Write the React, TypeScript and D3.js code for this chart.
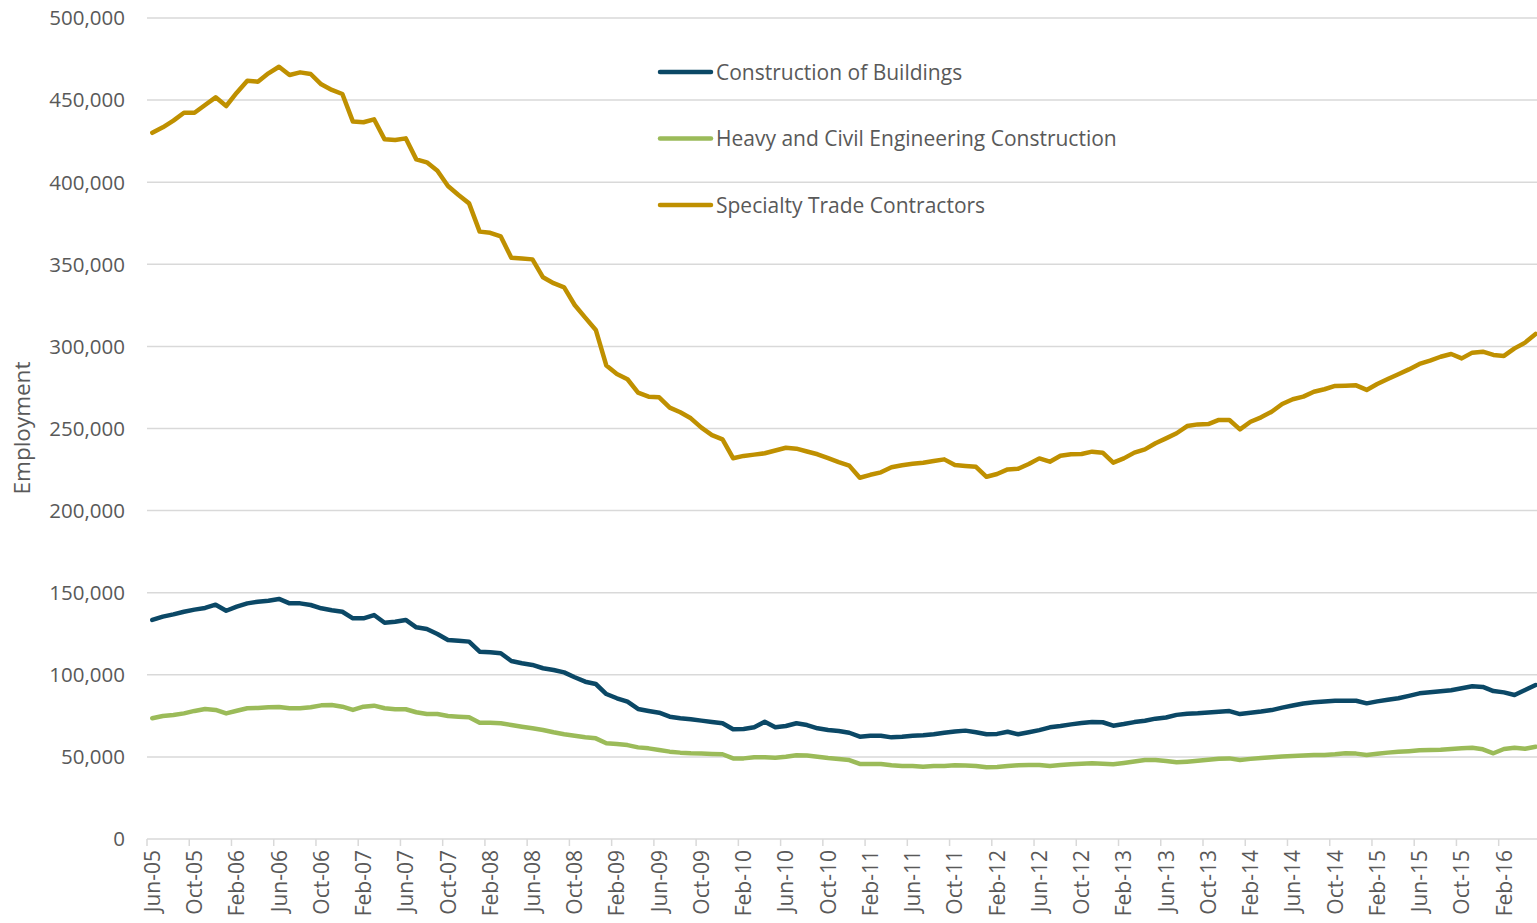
import React, { useEffect, useRef } from "react";
import * as d3 from "d3";

// month labels shown every 4 months, starting Jun-05
const tickLabels = [
  "Jun-05", "Oct-05", "Feb-06", "Jun-06", "Oct-06", "Feb-07", "Jun-07", "Oct-07",
  "Feb-08", "Jun-08", "Oct-08", "Feb-09", "Jun-09", "Oct-09", "Feb-10", "Jun-10",
  "Oct-10", "Feb-11", "Jun-11", "Oct-11", "Feb-12", "Jun-12", "Oct-12", "Feb-13",
  "Jun-13", "Oct-13", "Feb-14", "Jun-14", "Oct-14", "Feb-15", "Jun-15", "Oct-15",
  "Feb-16",
];

// employment, thousands, monthly Jun-05 .. May-16
const buildings = [
  133.4, 135.4, 136.8, 138.4, 139.7, 140.7, 142.7, 139.0, 141.5, 143.5,
  144.5, 145.1, 146.2, 143.5, 143.5, 142.5, 140.5, 139.3, 138.4, 134.4,
  134.4, 136.4, 131.7, 132.3, 133.4, 128.9, 127.9, 124.8, 121.2, 120.8,
  120.2, 114.1, 113.7, 113.1, 108.4, 107.0, 106.0, 104.0, 102.9, 101.5,
  98.5, 95.8, 94.4, 88.3, 85.7, 83.6, 79.2, 78.0, 76.9, 74.5,
  73.5, 72.9, 72.1, 71.3, 70.5, 66.8, 67.0, 68.0, 71.4, 68.0,
  68.8, 70.5, 69.4, 67.4, 66.4, 65.8, 64.7, 62.3, 62.9, 62.9,
  61.9, 62.3, 62.9, 63.2, 63.8, 64.7, 65.5, 66.0, 65.0, 63.8,
  64.0, 65.3, 63.8, 65.0, 66.3, 68.0, 68.8, 69.8, 70.6, 71.3,
  71.1, 69.0, 70.0, 71.2, 72.0, 73.3, 74.0, 75.6, 76.3, 76.6,
  77.1, 77.5, 77.9, 76.1, 76.9, 77.6, 78.5, 80.0, 81.3, 82.5,
  83.3, 83.8, 84.2, 84.2, 84.2, 82.6, 83.8, 84.8, 85.7, 87.2,
  88.7, 89.4, 90.0, 90.6, 91.8, 93.0, 92.6, 90.1, 89.3, 87.7,
  90.7, 93.8,
];

const heavy = [
  73.5, 74.9, 75.5, 76.5, 78.0, 79.2, 78.6, 76.5, 78.1, 79.6,
  79.8, 80.2, 80.4, 79.6, 79.6, 80.2, 81.4, 81.6, 80.6, 78.6,
  80.6, 81.2, 79.6, 79.0, 79.0, 77.2, 76.1, 76.1, 74.9, 74.5,
  74.1, 70.8, 70.8, 70.5, 69.4, 68.4, 67.4, 66.4, 65.0, 63.8,
  62.9, 62.0, 61.3, 58.3, 57.9, 57.2, 55.8, 55.2, 54.2, 53.2,
  52.6, 52.2, 52.0, 51.8, 51.6, 49.1, 49.1, 49.8, 49.8, 49.5,
  50.1, 51.0, 50.8, 50.1, 49.3, 48.7, 48.1, 45.7, 45.7, 45.7,
  44.9, 44.5, 44.5, 44.0, 44.5, 44.5, 44.9, 44.7, 44.5, 43.7,
  43.9, 44.5, 44.9, 45.1, 45.1, 44.5, 45.0, 45.5, 45.9, 46.1,
  45.8, 45.5, 46.3, 47.2, 48.1, 48.1, 47.5, 46.7, 47.1, 47.6,
  48.2, 48.9, 49.1, 48.1, 48.8, 49.3, 49.8, 50.2, 50.6, 50.9,
  51.1, 51.2, 51.6, 52.2, 52.0, 51.2, 51.9, 52.6, 53.1, 53.5,
  54.0, 54.2, 54.3, 54.8, 55.2, 55.6, 54.6, 52.2, 54.8, 55.6,
  55.0, 56.2,
];

const specialty = [
  430.1, 433.4, 437.5, 442.3, 442.3, 447.0, 451.7, 446.4, 454.5, 461.8,
  461.2, 466.3, 470.3, 465.3, 466.9, 465.9, 459.6, 456.2, 453.7, 436.9,
  436.5, 438.3, 426.1, 425.7, 426.7, 413.9, 412.1, 407.0, 397.7, 392.2,
  387.1, 369.9, 369.2, 367.0, 354.0, 353.5, 353.0, 342.1, 338.5, 336.0,
  325.2, 317.5, 310.0, 288.3, 283.2, 280.0, 271.8, 269.4, 269.0, 262.7,
  259.9, 256.2, 250.5, 246.0, 243.4, 231.9, 233.3, 234.1, 234.9, 236.6,
  238.3, 237.7, 236.0, 234.3, 231.9, 229.5, 227.4, 220.0, 221.8, 223.3,
  226.4, 227.6, 228.5, 229.2, 230.2, 231.2, 227.8, 227.2, 226.7, 220.6,
  222.3, 225.1, 225.5, 228.4, 231.8, 229.8, 233.4, 234.3, 234.5, 235.9,
  235.3, 229.2, 231.8, 235.3, 237.3, 241.0, 244.0, 247.1, 251.5, 252.5,
  252.7, 255.2, 255.2, 249.5, 254.1, 256.8, 260.2, 264.9, 267.8, 269.4,
  272.4, 273.9, 275.9, 276.1, 276.3, 273.5, 277.1, 280.1, 283.0, 286.0,
  289.3, 291.3, 293.7, 295.4, 292.7, 296.2, 296.8, 294.8, 294.2, 298.8,
  302.3, 307.6,
];

const seriesNames = [
  "Construction of Buildings",
  "Heavy and Civil Engineering Construction",
  "Specialty Trade Contractors",
];
const seriesColors = ["#0b4866", "#9bbb59", "#bf9000"];
const seriesValues = [buildings, heavy, specialty];

const yTicks = [0, 50, 100, 150, 200, 250, 300, 350, 400, 450, 500];

const FONT = "'Open Sans', sans-serif";
const TEXT = "#595959";
const GRID = "#d9d9d9";

export default function App() {
  const ref = useRef<SVGSVGElement>(null);

  useEffect(() => {
    const svg = d3.select(ref.current);
    svg.selectAll("*").remove();

    const step = 10.56;
    const left = 147;
    const x = d3
      .scaleLinear()
      .domain([-0.5, 131.5])
      .range([left, left + 132 * step]);
    const y = d3.scaleLinear().domain([0, 500]).range([839, 18]);

    // gridlines
    svg
      .append("g")
      .selectAll("line")
      .data(yTicks)
      .enter()
      .append("line")
      .attr("x1", left)
      .attr("x2", 1600)
      .attr("y1", d => y(d))
      .attr("y2", d => y(d))
      .attr("stroke", GRID)
      .attr("stroke-width", 1.5);

    // y labels
    svg
      .append("g")
      .selectAll("text")
      .data(yTicks)
      .enter()
      .append("text")
      .attr("x", 125)
      .attr("y", d => y(d))
      .attr("dy", "0.36em")
      .attr("text-anchor", "end")
      .attr("font-family", FONT)
      .attr("font-size", 20.5)
      .attr("fill", TEXT)
      .text(d => d3.format(",")(d * 1000));

    // x ticks on category boundaries
    const tickIdx = tickLabels.map((_, k) => k * 4);
    svg
      .append("g")
      .selectAll("line")
      .data(tickIdx)
      .enter()
      .append("line")
      .attr("x1", d => x(d - 0.5))
      .attr("x2", d => x(d - 0.5))
      .attr("y1", 839)
      .attr("y2", 846)
      .attr("stroke", GRID)
      .attr("stroke-width", 1.5);

    svg
      .append("g")
      .selectAll("text")
      .data(tickLabels)
      .enter()
      .append("text")
      .attr("transform", (_, k) => `translate(${x(k * 4)},850) rotate(-90)`)
      .attr("dy", "0.36em")
      .attr("text-anchor", "end")
      .attr("font-family", FONT)
      .attr("font-size", 21)
      .attr("fill", TEXT)
      .text(d => d);

    // axis title
    svg
      .append("text")
      .attr("transform", "translate(22,428) rotate(-90)")
      .attr("dy", "0.36em")
      .attr("text-anchor", "middle")
      .attr("font-family", FONT)
      .attr("font-size", 22.5)
      .attr("fill", TEXT)
      .text("Employment");

    // series lines
    const line = d3
      .line<number>()
      .x((_, i) => x(i))
      .y(d => y(d));

    seriesValues.forEach((vals, s) => {
      svg
        .append("path")
        .datum(vals)
        .attr("d", line)
        .attr("fill", "none")
        .attr("stroke", seriesColors[s])
        .attr("stroke-width", 4.5)
        .attr("stroke-linejoin", "round")
        .attr("stroke-linecap", "round");
    });

    // legend
    const lg = svg.append("g");
    seriesNames.forEach((name, s) => {
      const ly = 72 + s * 66.5;
      lg.append("line")
        .attr("x1", 660)
        .attr("x2", 711)
        .attr("y1", ly)
        .attr("y2", ly)
        .attr("stroke", seriesColors[s])
        .attr("stroke-width", 4.5)
        .attr("stroke-linecap", "round");
      lg.append("text")
        .attr("x", 716)
        .attr("y", ly)
        .attr("dy", "0.36em")
        .attr("font-family", FONT)
        .attr("font-size", 21)
        .attr("fill", TEXT)
        .text(name);
    });
  }, []);

  return (
    <svg
      ref={ref}
      width={1537}
      height={923}
      style={{ position: "absolute", left: 0, top: 0, background: "#fff" }}
    />
  );
}
